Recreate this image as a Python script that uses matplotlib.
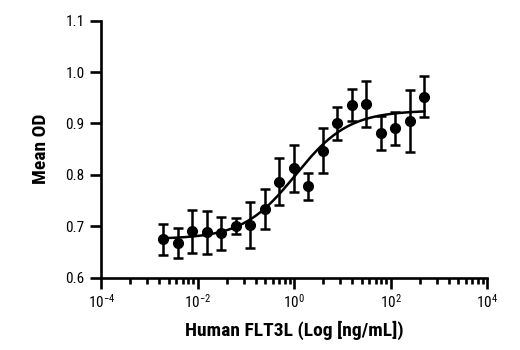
import numpy as np
import matplotlib
matplotlib.use("Agg")
import matplotlib.pyplot as plt
from matplotlib.ticker import FixedLocator, LogFormatterSciNotation, FormatStrFormatter, NullFormatter

# ---- data ----
conc = [0.00191, 0.00381, 0.00763, 0.0153, 0.0305, 0.061, 0.122, 0.244, 0.488,
        0.977, 1.95, 3.91, 7.81, 15.6, 31.3, 62.5, 125, 250, 500]
mean_od = [0.675, 0.668, 0.690, 0.688, 0.686, 0.701, 0.702, 0.734, 0.787,
           0.813, 0.778, 0.847, 0.900, 0.936, 0.938, 0.881, 0.891, 0.905, 0.952]
err_od = [0.030, 0.029, 0.041, 0.042, 0.033, 0.016, 0.045, 0.039, 0.046,
          0.046, 0.026, 0.044, 0.033, 0.032, 0.044, 0.033, 0.032, 0.060, 0.040]
x_major = [1e-4, 1e-2, 1e0, 1e2, 1e4]
x_minor_mult = [4, 9, 16, 25, 36, 49, 64, 81]
y_ticks = [0.6, 0.7, 0.8, 0.9, 1.0, 1.1]
x_label = "Human FLT3L (Log [ng/mL])"
y_label = "Mean OD"

fam = ['Roboto Condensed', 'PT Sans Narrow', 'DejaVu Sans']
plt.rcParams['font.family'] = fam
plt.rcParams['mathtext.fontset'] = 'custom'
plt.rcParams['mathtext.rm'] = 'Roboto Condensed'
plt.rcParams['mathtext.default'] = 'regular'

# ---- 4PL fit (grid search over logEC50/hill, linear LSQ for bottom/top) ----
lx = np.log10(np.array(conc))
yv = np.array(mean_od)
best = None
for lec in np.linspace(-1.5, 1.5, 301):
    for h in np.linspace(0.3, 2.5, 221):
        s = 1.0 / (1.0 + 10 ** ((lec - lx) * h))
        A = np.vstack([np.ones_like(s), s]).T
        coef, res, *_ = np.linalg.lstsq(A, yv, rcond=None)
        r = np.sum((A @ coef - yv) ** 2)
        if best is None or r < best[0]:
            best = (r, lec, h, coef)
_, lec, h, coef = best
xf = np.logspace(lx.min(), lx.max(), 300)
yf = coef[0] + coef[1] / (1.0 + 10 ** ((lec - np.log10(xf)) * h))

fig = plt.figure(figsize=(5.2, 3.5), dpi=100)
ax = fig.add_axes([0.195, 0.2066, 0.7418, 0.7343])

ax.plot(xf, yf, color='black', lw=1.8, zorder=2)
ax.errorbar(conc, mean_od, yerr=err_od, fmt='o', color='black', ms=7,
            elinewidth=1.8, capsize=3.6, capthick=1.8, zorder=3, clip_on=False)

ax.set_xscale('log')
ax.set_xlim(1e-4, 1e4)
ax.set_ylim(0.6, 1.1)
ax.xaxis.set_major_locator(FixedLocator(x_major))
minors = [m * k for m in x_major[:-1] for k in x_minor_mult]
ax.xaxis.set_minor_locator(FixedLocator(minors))
ax.xaxis.set_major_formatter(LogFormatterSciNotation())
ax.xaxis.set_minor_formatter(NullFormatter())
ax.yaxis.set_major_locator(FixedLocator(y_ticks))
ax.yaxis.set_major_formatter(FormatStrFormatter('%.1f'))
ax.yaxis.set_minor_locator(FixedLocator([]))

for side in ['top', 'right']:
    ax.spines[side].set_visible(False)
for side in ['left', 'bottom']:
    ax.spines[side].set_linewidth(1.9)

ax.tick_params(axis='both', which='major', width=1.9, length=8, labelsize=11, pad=3)
ax.tick_params(axis='x', which='minor', width=1.9, length=4)
ax.tick_params(axis='y', pad=4)

ax.set_xlabel(x_label, fontsize=14, fontweight='bold', labelpad=7)
ax.set_ylabel(y_label, fontsize=14, fontweight='bold', labelpad=11)

fig.savefig('out.png', dpi=100)
